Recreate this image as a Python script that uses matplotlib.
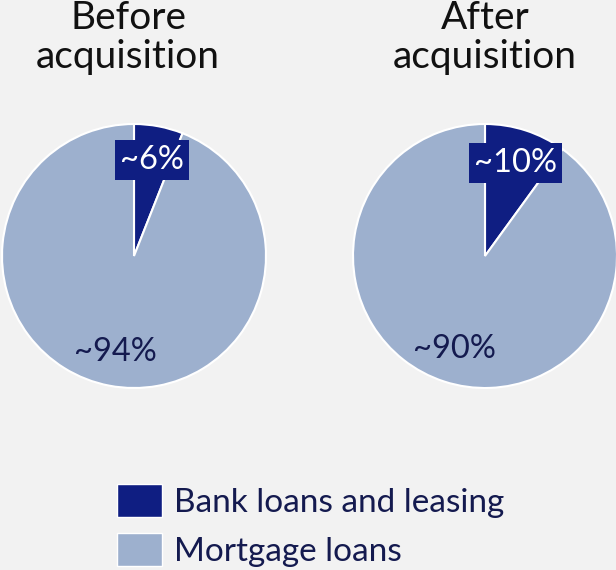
import matplotlib.pyplot as plt
from matplotlib.patches import Patch

plt.rcParams['font.family'] = ['Lato', 'DejaVu Sans']

segments = ['Bank loans and leasing', 'Mortgage loans']
before = [6, 94]
after = [10, 90]
titles = ['Before\nacquisition', 'After\nacquisition']

navy = '#0f1e82'
light = '#9db0ce'
text_col = '#141a4f'
bg = '#f2f2f2'

W, H = 616, 570
fig = plt.figure(figsize=(W / 100, H / 100), dpi=100, facecolor=bg)

R = 132
lim = 1.06
centers = [(134, 256), (485, 256)]
title_x = [128, 485]

for (cx, cy), vals, title, tx in zip(centers, [before, after], titles, title_x):
    half = R * lim
    ax = fig.add_axes([(cx - half) / W, (H - cy - half) / H, 2 * half / W, 2 * half / H])
    wedges, texts, autotexts = ax.pie(
        vals, colors=[navy, light], startangle=90, counterclock=False,
        autopct=lambda p: '~%d%%' % round(p), pctdistance=0.74,
        wedgeprops=dict(edgecolor='white', linewidth=1.5),
        textprops=dict(fontsize=23.5))
    # pie() resets the limits, so fix them afterwards
    ax.set_xlim(-lim, lim)
    ax.set_ylim(-lim, lim)
    ax.set_aspect('equal')
    ax.axis('off')
    autotexts[0].set_color('white')
    autotexts[0].set_bbox(dict(boxstyle='square,pad=0.15', fc=navy, ec='none'))
    autotexts[1].set_color(text_col)
    fig.text(tx / W, 1 - 0 / H, title, ha='center', va='top', fontsize=28,
             color='#111111', linespacing=1.1)

handles = [Patch(facecolor=navy, edgecolor='white', linewidth=1),
           Patch(facecolor=light, edgecolor='white', linewidth=1)]
leg = fig.legend(handles, segments, loc='upper left',
                 bbox_to_anchor=(117 / W, 1 - 484 / H), frameon=False,
                 fontsize=24, handlelength=1.35, handleheight=1.15,
                 handletextpad=0.35, labelspacing=0.45, borderpad=0, borderaxespad=0)
for t in leg.get_texts():
    t.set_color(text_col)

fig.savefig('out.png', dpi=100, facecolor=bg)
